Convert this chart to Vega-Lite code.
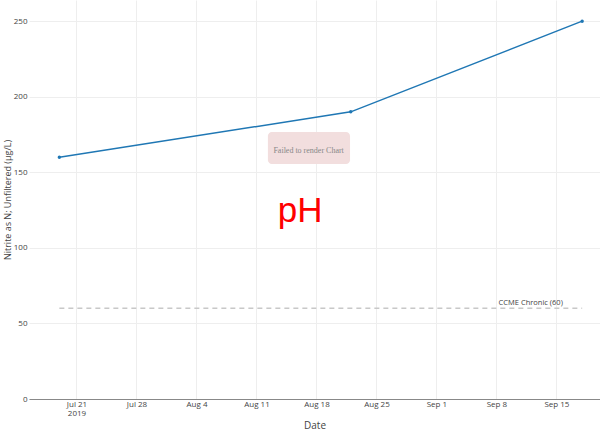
{
  "$schema": "https://vega.github.io/schema/vega-lite/v6.json",
  "width": 571,
  "height": 399,
  "autosize": {"type": "none"},
  "padding": {"left": 29, "top": 0, "right": 0, "bottom": 37},
  "background": "white",
  "config": {
    "view": {"stroke": null},
    "font": "Open Sans",
    "axis": {"labelFont": "Open Sans", "titleFont": "Open Sans", "labelColor": "#444", "titleColor": "#444", "titleFontWeight": "normal"}
  },
  "datasets": {
    "obs": [
      {"date": "2019-07-19T00:00:00Z", "value": 160},
      {"date": "2019-08-22T00:00:00Z", "value": 190},
      {"date": "2019-09-18T00:00:00Z", "value": 250}
    ],
    "guide": [
      {"date": "2019-07-19T00:00:00Z", "value": 60},
      {"date": "2019-09-18T00:00:00Z", "value": 60}
    ],
    "guideLabel": [
      {"date": "2019-09-12T00:00:00Z", "value": 60, "label": "CCME Chronic (60)"}
    ],
    "errBox": [
      {"x1": "2019-08-12T08:00:00Z", "x2": "2019-08-21T22:00:00Z", "y1": 155.5, "y2": 176.7}
    ],
    "errText": [
      {"date": "2019-08-17T02:00:00Z", "value": 164.1, "label": "Failed to render Chart"}
    ],
    "phText": [
      {"date": "2019-08-16T02:00:00Z", "value": 117.1, "label": "pH"}
    ]
  },
  "encoding": {
    "x": {
      "field": "date",
      "type": "temporal",
      "scale": {"type": "utc", "domain": ["2019-07-15T11:00:00Z", "2019-09-20T02:00:00Z"]},
      "axis": {
        "title": "Date",
        "titleFontSize": 10,
        "titlePadding": 3,
        "labelFontSize": 8,
        "labelPadding": 1,
        "labelLineHeight": 9,
        "ticks": false,
        "domainColor": "#888",
        "domainWidth": 1,
        "gridColor": "#eeeeee",
        "labelAngle": 0,
        "labelOverlap": false,
        "values": [
          {"year": 2019, "month": 7, "date": 21, "utc": true},
          {"year": 2019, "month": 7, "date": 28, "utc": true},
          {"year": 2019, "month": 8, "date": 4, "utc": true},
          {"year": 2019, "month": 8, "date": 11, "utc": true},
          {"year": 2019, "month": 8, "date": 18, "utc": true},
          {"year": 2019, "month": 8, "date": 25, "utc": true},
          {"year": 2019, "month": 9, "date": 1, "utc": true},
          {"year": 2019, "month": 9, "date": 8, "utc": true},
          {"year": 2019, "month": 9, "date": 15, "utc": true}
        ],
        "labelExpr": "utcFormat(datum.value, '%m%d') == '0721' ? ['Jul 21', '2019'] : utcFormat(datum.value, '%b %-d')"
      }
    },
    "y": {
      "field": "value",
      "type": "quantitative",
      "scale": {"domain": [0, 264], "nice": false, "zero": true},
      "axis": {
        "title": "Nitrite as N; Unfiltered (µg/L)",
        "titleFontSize": 9,
        "titlePadding": 1,
        "labelFontSize": 8,
        "labelPadding": 2,
        "ticks": false,
        "domain": false,
        "values": [0, 50, 100, 150, 200, 250],
        "gridColor": "#eeeeee"
      }
    }
  },
  "layer": [
    {
      "data": {"name": "guide"},
      "mark": {"type": "line", "color": "#c8c8c8", "strokeWidth": 1.5, "strokeDash": [5, 4]}
    },
    {
      "data": {"name": "guideLabel"},
      "mark": {"type": "text", "fontSize": 7.5, "color": "#444", "align": "center", "baseline": "bottom", "dy": -1},
      "encoding": {"text": {"field": "label"}}
    },
    {
      "data": {"name": "obs"},
      "mark": {"type": "line", "color": "#1f77b4", "strokeWidth": 1.5, "point": {"filled": true, "size": 12, "color": "#1f77b4"}}
    },
    {
      "data": {"name": "errBox"},
      "mark": {"type": "rect", "fill": "#f2dede", "cornerRadius": 4},
      "encoding": {
        "x": {"field": "x1", "type": "temporal"},
        "x2": {"field": "x2"},
        "y": {"field": "y1", "type": "quantitative"},
        "y2": {"field": "y2"}
      }
    },
    {
      "data": {"name": "errText"},
      "mark": {"type": "text", "font": "Liberation Serif", "fontSize": 8, "color": "#888", "align": "center", "baseline": "middle"},
      "encoding": {"text": {"field": "label"}}
    },
    {
      "data": {"name": "phText"},
      "mark": {"type": "text", "font": "Liberation Sans", "fontSize": 35, "color": "#ff0000", "align": "center", "baseline": "alphabetic"},
      "encoding": {"text": {"field": "label"}}
    }
  ]
}
